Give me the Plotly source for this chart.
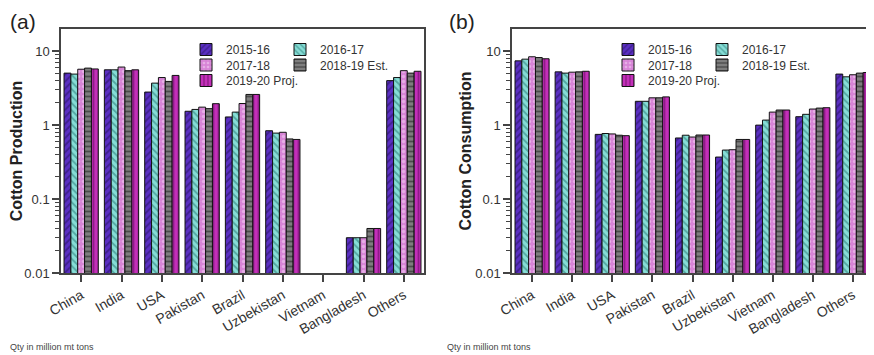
import plotly.graph_objects as go

countries = ["China", "India", "USA", "Pakistan", "Brazil", "Uzbekistan", "Vietnam", "Bangladesh", "Others"]
seasons = ["2015-16", "2016-17", "2017-18", "2018-19 Est.", "2019-20 Proj."]

# Cotton production (million mt tons)
prod_2015 = [5.05, 5.6, 2.8, 1.54, 1.29, 0.84, None, 0.03, 4.0]
prod_2016 = [4.9, 5.6, 3.7, 1.63, 1.5, 0.78, None, 0.03, 4.4]
prod_2017 = [5.7, 6.1, 4.4, 1.75, 1.96, 0.8, None, 0.03, 5.45]
prod_2018 = [5.9, 5.45, 3.9, 1.67, 2.6, 0.65, None, 0.04, 5.05]
prod_2019 = [5.75, 5.6, 4.7, 1.95, 2.6, 0.64, None, 0.04, 5.35]

# Cotton consumption (million mt tons)
cons_2015 = [7.4, 5.25, 0.75, 2.1, 0.67, 0.37, 1.0, 1.3, 4.9]
cons_2016 = [7.8, 5.05, 0.77, 2.1, 0.73, 0.46, 1.17, 1.4, 4.5]
cons_2017 = [8.4, 5.2, 0.76, 2.34, 0.69, 0.465, 1.5, 1.65, 4.8]
cons_2018 = [8.2, 5.25, 0.73, 2.34, 0.735, 0.64, 1.6, 1.7, 5.05]
cons_2019 = [7.9, 5.35, 0.72, 2.41, 0.735, 0.64, 1.6, 1.72, 5.15]

production = [prod_2015, prod_2016, prod_2017, prod_2018, prod_2019]
consumption = [cons_2015, cons_2016, cons_2017, cons_2018, cons_2019]

colors = ["#5a2fc2", "#86ddd6", "#d784d6", "#7e7e7e", "#c32fb9"]
shapes = ["/", "\\", ".", "-", "|"]
fgcolors = ["#24105a", "#1f6f6a", "#f5d8f5", "#1a1a1a", "#5a0a55"]

# page body has an 8px margin: build the figure slightly smaller and offset coordinates
OFF = 8
W, H = 874 - OFF, 355 - OFF
def px(v):
    return (v - OFF) / W
def py(v):
    return (H - (v - OFF)) / H

# legend slot positions (column, row) for each season
slots = [(0, 0), (1, 0), (0, 1), (1, 1), (0, 2)]
col_x_a = [186, 280]
col_x_b = [608, 702]
row_y = [35, 50.5, 66]

fig = go.Figure()

leg_common = dict(bgcolor="rgba(0,0,0,0)", font=dict(family="Liberation Sans, Arial", size=12, color="#333333"),
                  orientation="v", xanchor="left", yanchor="top", itemwidth=30, tracegroupgap=0, visible=True)
legend_layout = {}

for i, s in enumerate(seasons):
    style = dict(
        color=colors[i],
        line=dict(color="#111111", width=1),
        pattern=dict(shape=shapes[i], fgcolor=fgcolors[i], size=5, solidity=0.35),
    )
    la = "legend" if i == 0 else f"legend{i + 1}"
    lb = f"legend{i + 6}"
    c, r = slots[i]
    legend_layout[la] = dict(leg_common, x=px(col_x_a[c]), y=py(row_y[r]))
    legend_layout[lb] = dict(leg_common, x=px(col_x_b[c]), y=py(row_y[r]))
    fig.add_trace(go.Bar(x=countries, y=production[i], name=s, marker=style,
                         xaxis="x", yaxis="y", legend=la, showlegend=True))
    fig.add_trace(go.Bar(x=countries, y=consumption[i], name=s, marker=style,
                         xaxis="x2", yaxis="y2", legend=lb, showlegend=True))

axis_common = dict(
    showline=True, linecolor="#444444", linewidth=1.5, mirror=True,
    ticks="outside", tickcolor="#444444", ticklen=7, tickwidth=1.5,
    tickfont=dict(family="Liberation Sans, Arial", size=13, color="#333333"),
    showgrid=False, zeroline=False, automargin=False,
)

yaxis_common = dict(
    axis_common, type="log", range=[-2, 1.30],
    tickvals=[0.01, 0.1, 1, 10], ticktext=["0.01", "0.1", "1", "10"],
    minor=dict(ticks="outside", ticklen=4, tickcolor="#444444", tickwidth=1,
               dtick="D1", showgrid=False),
)

xfont = dict(family="Liberation Sans, Arial", size=14, color="#333333")

fig.update_layout(
    width=W, height=H,
    showlegend=True,
    margin=dict(l=0, r=0, t=0, b=0, autoexpand=False),
    paper_bgcolor="white", plot_bgcolor="white",
    barmode="group", bargap=0.15, bargroupgap=0.0,
    font=dict(family="Liberation Sans, Arial", color="#333333"),
    xaxis=dict(axis_common, domain=[px(61), px(424)], anchor="y", tickangle=-30, tickfont=xfont),
    yaxis=dict(yaxis_common, domain=[py(273), py(29)], anchor="x",
               title=dict(text="<b>Cotton Production</b>", font=dict(size=16, color="#222222"), standoff=0)),
    xaxis2=dict(axis_common, domain=[px(512), px(873)], anchor="y2", tickangle=-30, tickfont=xfont),
    yaxis2=dict(yaxis_common, domain=[py(273), py(29)], anchor="x2",
                title=dict(text="<b>Cotton Consumption</b>", font=dict(size=16, color="#222222"), standoff=0)),
    **legend_layout,
)

fig.add_annotation(text="(a)", x=px(8), y=py(8), xref="paper", yref="paper", xanchor="left", yanchor="top",
                   showarrow=False, font=dict(family="Liberation Sans, Arial", size=21, color="#222222"))
fig.add_annotation(text="(b)", x=px(447), y=py(8), xref="paper", yref="paper", xanchor="left", yanchor="top",
                   showarrow=False, font=dict(family="Liberation Sans, Arial", size=21, color="#222222"))
fig.add_annotation(text="Qty in million mt tons", x=px(8), y=py(354), xref="paper", yref="paper",
                   xanchor="left", yanchor="bottom", showarrow=False,
                   font=dict(family="Liberation Sans, Arial", size=9, color="#444444"))
fig.add_annotation(text="Qty in million mt tons", x=px(445), y=py(354), xref="paper", yref="paper",
                   xanchor="left", yanchor="bottom", showarrow=False,
                   font=dict(family="Liberation Sans, Arial", size=9, color="#444444"))

fig.write_html("out.html")
